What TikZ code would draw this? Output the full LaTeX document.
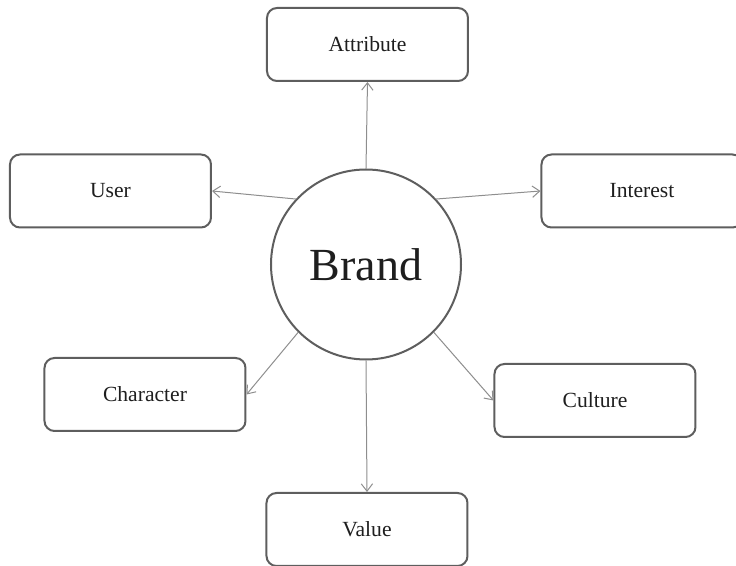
\documentclass[tikz,border=0pt]{standalone}
\usepackage{fontspec}
\setmainfont{Liberation Serif}
\usetikzlibrary{arrows.meta}
\definecolor{bdr}{HTML}{5E5E5E}
\definecolor{lnk}{HTML}{8E8E8E}
\definecolor{txt}{HTML}{1E1E1E}

\begin{document}
\begin{tikzpicture}[x=0.5pt,y=-0.5pt,
    item/.style={rectangle,draw=bdr,rounded corners=5pt,line width=1pt,minimum width=100.5pt,minimum height=36.5pt,font=\fontsize{10.8}{13}\selectfont,text=txt},
    core/.style={circle,draw=bdr,line width=1pt,minimum size=95pt,inner sep=0pt,font=\fontsize{23}{27}\selectfont,text=txt},
    arr/.style={-{Straight Barb[length=1.3mm,width=2mm]},lnk,line width=0.5pt},
]
\useasboundingbox (0,0) rectangle (736,566);

% Centre
\node[core] (brand) at (366,264.5) {Brand};

% Surrounding facets
\node[item] (attribute) at (367.5,44.5) {Attribute};
\node[item] (user) at (110.5,191) {User};
\node[item] (interest) at (642,191) {Interest};
\node[item] (character) at (145,394.5) {Character};
\node[item] (culture) at (595,400.5) {Culture};
\node[item] (value) at (367,529.5) {Value};

% Links
\draw[arr] (brand.90) -- (attribute.south);
\draw[arr] (brand.137) -- (user.east);
\draw[arr] (brand.43) -- (interest.west);
\draw[arr] (brand.225) -- (character.east);
\draw[arr] (brand.315) -- (culture.west);
\draw[arr] (brand.270) -- (value.north);
\end{tikzpicture}
\end{document}
